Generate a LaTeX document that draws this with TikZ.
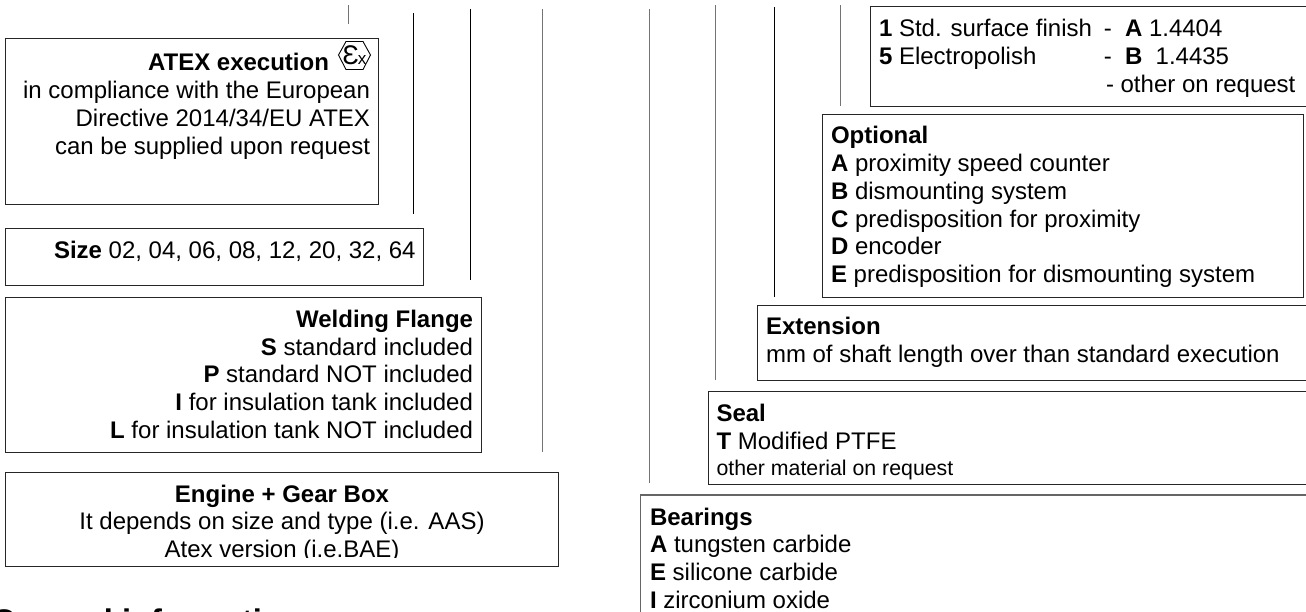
\documentclass[tikz,border=0pt]{standalone}
\usepackage{fontspec}
\setmainfont{Liberation Sans}
\newcommand{\fs}{\fontsize{24}{27.7}\selectfont}
\newcommand{\fss}{\fontsize{21.3}{26}\selectfont}
\tikzset{
  boxn/.style={draw=black!85,line width=0.9pt,anchor=north west,inner sep=0pt,outer sep=0pt},
  conn/.style={draw=black,line width=0.8pt},
  conng/.style={draw=black!55,line width=0.9pt},
  tl/.style={font=\fs,anchor=north west,align=left,inner sep=0pt,outer sep=0pt},
  tr/.style={font=\fs,anchor=north east,align=right,inner sep=0pt,outer sep=0pt},
  tc/.style={font=\fs,anchor=north,align=center,inner sep=0pt,outer sep=0pt}
}
\newcommand{\BX}[5]{\node[boxn,minimum width=#4pt-#2pt,minimum height=#5pt-#3pt] (#1) at (#2,#3) {};}
\begin{document}
\begin{tikzpicture}[x=1pt,y=-1pt]
\clip (0,0) rectangle (1306,611);
\useasboundingbox (0,0) rectangle (1306,611);
% boxes
\BX{atex}{5}{38}{378.5}{204}
\BX{size}{5}{228}{423}{285}
\BX{weld}{5}{297}{481}{452}
\BX{engine}{5}{472}{558.5}{566}
\BX{finish}{870}{6}{1320}{106}
\BX{optional}{822}{114}{1303}{297}
\BX{extension}{757}{305}{1320}{380}
\BX{seal}{708}{391}{1320}{484}
\node[boxn,draw=black!60,line width=1.3pt,minimum width=680pt,minimum height=150pt] (bearings) at (640.3,495) {};
% connectors
\coordinate (a1) at (348,5);   \coordinate (a2) at (348,24);
\coordinate (b1) at (413,13);  \coordinate (b2) at (413,214);
\coordinate (c1) at (470,9);   \coordinate (c2) at (470,280);
\coordinate (d1) at (542,9);   \coordinate (d2) at (542,452);
\coordinate (e1) at (649,9);   \coordinate (e2) at (649,483);
\coordinate (f1) at (715.6,5); \coordinate (f2) at (715.6,380);
\coordinate (g1) at (774,7);   \coordinate (g2) at (774,297);
\coordinate (h1) at (840,5);   \coordinate (h2) at (840,106);
\draw[conng] (a1) -- (a2);
\draw[conn] (b1) -- (b2);
\draw[conn] (c1) -- (c2);
\draw[conng] (d1) -- (d2);
\draw[conng] (e1) -- (e2);
\draw[conng] (f1) -- (f2);
\draw[conn] (g1) -- (g2);
\draw[conng] (h1) -- (h2);
% texts
\node[tr] (tatexh) at (329,51.6) {\strut\textbf{ATEX execution}};
\node[tr] (tatex) at (370,79.3) {\strut in compliance with the European\\Directive 2014/34/EU ATEX\\can be supplied upon request};
\draw[line width=0.9pt] (338.5,55) -- (346,41.5) -- (363,41.5) -- (370.5,55) -- (363,69.5) -- (346,69.5) -- cycle;
\node[font=\fontsize{17}{20}\selectfont,inner sep=0pt] (exsym) at (354.5,55.5) {{\fontsize{27}{20}\selectfont Ɛ}\kern-1pt x};
\node[tl] (tsize) at (54,239.6) {\strut\textbf{Size} 02, 04, 06, 08, 12, 20, 32, 64};
\node[tr] (tweld) at (473,308) {\strut\textbf{Welding Flange}\\\textbf{S} standard included\\\textbf{P} standard NOT included\\\textbf{I} for insulation tank included\\\textbf{L} for insulation tank NOT included};
\begin{scope}
\clip (0,470) rectangle (600,557.5);
\node[tc] (tengine) at (282,482.6) {\strut\textbf{Engine + Gear Box}\\It depends on size and type (i.e. AAS)\\Atex version (i.e.BAE)};
\end{scope}
\node[tl] (tfinish) at (879,17.6) {\strut\makebox[225pt][l]{\textbf{1} Std. surface finish}\makebox[21pt][l]{-}\textbf{A} 1.4404\\\makebox[225pt][l]{\textbf{5} Electropolish}\makebox[21pt][l]{-}\textbf{B}\ \ 1.4435\\\hspace*{227pt}- other on request};
\node[tl] (toptional) at (831,124.6) {\strut\textbf{Optional}\\\textbf{A} proximity speed counter\\\textbf{B} dismounting system\\\textbf{C} predisposition for proximity\\\textbf{D} encoder\\\textbf{E} predisposition for dismounting system};
\node[tl] (textension) at (766,315.6) {\strut\textbf{Extension}\\mm of shaft length over than standard execution};
\node[tl] (tseal) at (716.5,402.3) {\strut\textbf{Seal}\\\textbf{T} Modified PTFE\\[-1.7pt]{\fss other material on request}};
\node[tl] (tbearings) at (650,505.6) {\strut\textbf{Bearings}\\\textbf{A} tungsten carbide\\\textbf{E} silicone carbide\\\textbf{I} zirconium oxide};
\node[anchor=base west,font=\fontsize{32.7}{36}\selectfont\bfseries,inner sep=0pt] (tgeneral) at (-9,632) {General information};
\end{tikzpicture}
\end{document}
